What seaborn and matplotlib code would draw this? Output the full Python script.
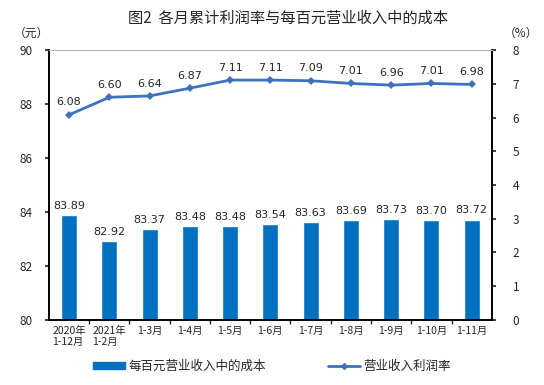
#!/usr/bin/env python3
import pandas as pd
import seaborn as sns
import matplotlib.pyplot as plt
from matplotlib.lines import Line2D
from matplotlib.patches import Patch

periods = ["2020年\n1-12月", "2021年\n1-2月", "1-3月", "1-4月", "1-5月", "1-6月",
           "1-7月", "1-8月", "1-9月", "1-10月", "1-11月"]
cost = [83.89, 82.92, 83.37, 83.48, 83.48, 83.54, 83.63, 83.69, 83.73, 83.70, 83.72]
margin = [6.08, 6.60, 6.64, 6.87, 7.11, 7.11, 7.09, 7.01, 6.96, 7.01, 6.98]

BAR_COLOR = "#0070C0"
LINE_COLOR = "#3E72BE"

sns.set_theme(style="white")
plt.rcParams["font.family"] = ["Noto Sans CJK SC", "DejaVu Sans"]

df = pd.DataFrame({"period": periods, "cost": cost, "margin": margin})

fig = plt.figure(figsize=(5.44, 3.85), dpi=100)
ax = fig.add_axes([0.090, 0.169, 0.814, 0.701])

sns.barplot(data=df, x="period", y="cost", color=BAR_COLOR, width=0.4,
            saturation=1, ax=ax)
ax.set_ylim(80, 90)
ax.set_yticks(range(80, 91, 2))
ax.set_xlim(-0.5, len(periods) - 0.5)
ax.set_xlabel("")
ax.set_ylabel("")
ax.tick_params(axis="y", labelsize=8.5, length=3, direction="out", left=True, pad=9)
ax.tick_params(axis="x", labelsize=7.5, length=0, pad=4)
for lbl in ax.get_xticklabels():
    lbl.set_multialignment("left")
# category separators on the x axis
ax.set_xticks([i + 0.5 for i in range(len(periods) - 1)], minor=True)
ax.tick_params(axis="x", which="minor", length=3, direction="out", bottom=True)

for i, v in enumerate(cost):
    ax.text(i, v + 0.15, f"{v:.2f}", ha="center", va="bottom", fontsize=8,
            family="DejaVu Sans")

ax2 = ax.twinx()
sns.lineplot(data=df, x="period", y="margin", color=LINE_COLOR, marker="D",
             markersize=4, linewidth=2, markeredgewidth=0, ax=ax2, sort=False)
ax2.set_ylim(0, 8)
ax2.set_yticks(range(0, 9))
ax2.set_ylabel("")
ax2.tick_params(axis="y", labelsize=8.5, length=3, direction="out", right=True, pad=12)
for i, v in enumerate(margin):
    ax2.text(i, v + 0.22, f"{v:.2f}", ha="center", va="bottom", fontsize=8,
             family="DejaVu Sans")

for a in (ax, ax2):
    for side in ("left", "right", "bottom"):
        a.spines[side].set_color("black")
        a.spines[side].set_linewidth(1.2)
    a.spines["top"].set_color("#BBBBBB")
    a.spines["top"].set_linewidth(0.8)

fig.text(0.058, 0.905, "（元）", fontsize=8.5, ha="center")
fig.text(0.958, 0.905, "（%）", fontsize=8.5, ha="center")
fig.text(0.53, 0.952, "图2  各月累计利润率与每百元营业收入中的成本", fontsize=11,
         ha="center", va="center", fontweight="medium")

handles = [Patch(color=BAR_COLOR, label="每百元营业收入中的成本"),
           Line2D([], [], color=LINE_COLOR, marker="D", markersize=3, linewidth=2,
                  label="营业收入利润率")]
fig.legend(handles=handles, loc="center", bbox_to_anchor=(0.50, 0.048), ncol=2,
           frameon=False, fontsize=9, columnspacing=5, handlelength=2.5,
           handleheight=0.5, handletextpad=0.3)

fig.savefig("out.png", dpi=100)
